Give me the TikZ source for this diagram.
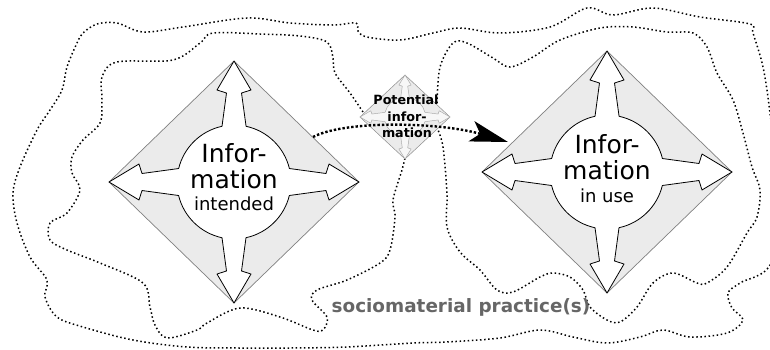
\documentclass[tikz,border=0pt]{standalone}
\usepackage{fontspec}
\setmainfont{DejaVu Sans}
\usetikzlibrary{arrows.meta}
\definecolor{dfill}{HTML}{EBEBEB}
\tikzset{
  diamondstyle/.style={fill=dfill, draw=black!50, line width=0.7pt},
  crossstyle/.style={fill=white, draw=black, line width=0.8pt, line join=round},
  infodiamond/.pic={
    \path[diamondstyle] (-125,0) -- (0,-121) -- (125,0) -- (0,121) -- cycle;
    \path[crossstyle] (-12,-55.7) -- (-7.5,-89) -- (-17,-92) -- (0,-121) -- (17,-92) -- (7.5,-89) -- (12,-55.7)
      arc[start angle=-77.8, end angle=-13.7, radius=57]
      -- (92,-8.5) -- (95,-18) -- (125,0) -- (95,18) -- (92,8.5) -- (55.4,13.5)
      arc[start angle=13.7, end angle=77.8, radius=57]
      -- (7.5,89) -- (17,92) -- (0,121) -- (-17,92) -- (-7.5,89) -- (-12,55.7)
      arc[start angle=102.2, end angle=166.3, radius=57]
      -- (-92,8.5) -- (-95,18) -- (-125,0) -- (-95,-18) -- (-92,-8.5) -- (-55.4,-13.5)
      arc[start angle=193.7, end angle=257.8, radius=57] -- cycle;
  },
  contour/.style={line width=1.5pt, dash pattern=on 1.5pt off 2.6pt, black},
  conn/.style={line width=2.4pt, dash pattern=on 2.4pt off 2pt,
    -{Stealth[length=38pt, width=21pt, inset=9pt]}},
  bigtxt/.style={font=\fontsize{25}{30}\selectfont, inner sep=0pt, anchor=base},
  smalltxt/.style={font=\fontsize{18}{22}\selectfont, inner sep=0pt, anchor=base},
  pottxt/.style={font=\bfseries\fontsize{12.7}{15}\selectfont, inner sep=0pt, anchor=base},
  practxt/.style={font=\bfseries\fontsize{18.4}{22}\selectfont, text=black!60, inner sep=0pt, anchor=base},
}
\begin{document}
\begin{tikzpicture}[x=1pt, y=1pt, yscale=-1]
\useasboundingbox (0,0) rectangle (770,349);
% practice contours
\begin{scope}
\clip (0,0) rectangle (770,349);
\draw[contour] plot[smooth cycle, tension=0.55] coordinates {
 (83,33) (97,24) (117,23) (143,32) (183,27) (247,18) (290,23) (333,25) (356,23) (358,31) (367,37)
 (400,40) (433,33) (460,28) (500,33) (550,27) (587,8) (613,15) (653,8) (700,17) (750,24) (753,33)
 (763,67) (770,113) (778,190) (771,263) (740,283) (728,293) (732,308) (743,320) (727,333) (690,337)
 (663,330) (640,337) (607,343) (573,337) (540,330) (500,338) (447,342) (413,343) (347,347) (290,348)
 (240,348) (187,347) (133,340) (83,327) (57,317) (45,297) (47,280) (30,257) (17,223) (13,193)
 (20,167) (37,130) (50,110) (62,90) (67,67) (77,43)};
\draw[contour] plot[smooth, tension=0.55] coordinates {
 (363,112) (350,93) (335,73) (333,58) (327,42) (300,36) (260,34) (213,33) (200,43) (173,60) (117,62)
 (102,77) (102,100) (100,123) (83,140) (72,157) (72,173) (80,190) (67,213) (50,223) (50,240) (67,250)
 (100,263) (143,283) (150,307) (155,325) (167,338) (197,330) (207,323) (240,308) (280,317) (313,330)
 (323,330) (327,317) (312,300) (317,290) (347,280) (380,263) (390,250) (395,217) (393,200) (402,170)
 (405,158)};
\draw[contour] plot[smooth, tension=0.55] coordinates {
 (437,103) (440,67) (453,43) (467,43) (493,58) (510,67) (533,57) (560,40) (600,28) (633,27) (667,32)
 (693,33) (707,47) (717,73) (733,100) (743,133) (752,167) (760,190) (757,217) (747,233) (727,267)
 (707,283) (697,283) (673,273) (653,283) (637,307) (620,322) (607,320) (590,307) (583,290) (570,277)
 (553,273) (540,277) (513,292) (497,290) (480,270) (460,252) (447,227) (447,193) (443,147) (438,130)};
\end{scope}
% diamonds
\pic (ldia) at (234,182) {infodiamond};
\pic (rdia) at (607,172) {infodiamond};
\pic[xscale=0.36, yscale=0.347,
     diamondstyle/.style={fill=dfill, draw=black!45, line width=0.5pt},
     crossstyle/.style={fill=white!60!dfill, draw=black!35, line width=0.45pt, line join=round}]
     (pdia) at (405,117) {infodiamond};
% connector
\coordinate (cstart) at (313,137);
\coordinate (cend) at (508,142);
\draw[conn] (cstart) .. controls (345,120) and (440,122) .. (cend);
% texts
\node[bigtxt] (l1) at (234,162) {Infor-};
\node[bigtxt] (l2) at (234,188) {mation};
\node[smalltxt] (l3) at (234,210) {intended};
\node[bigtxt] (r1) at (607,153) {Infor-};
\node[bigtxt] (r2) at (607,179) {mation};
\node[smalltxt] (r3) at (607,202) {in use};
\node[pottxt] (p1) at (406,104) {Potential};
\node[pottxt] (p2) at (407,121) {infor-};
\node[pottxt] (p3) at (407,137) {mation};
\node[practxt] (prac) at (461,312) {sociomaterial practice(s)};
\end{tikzpicture}
\end{document}
